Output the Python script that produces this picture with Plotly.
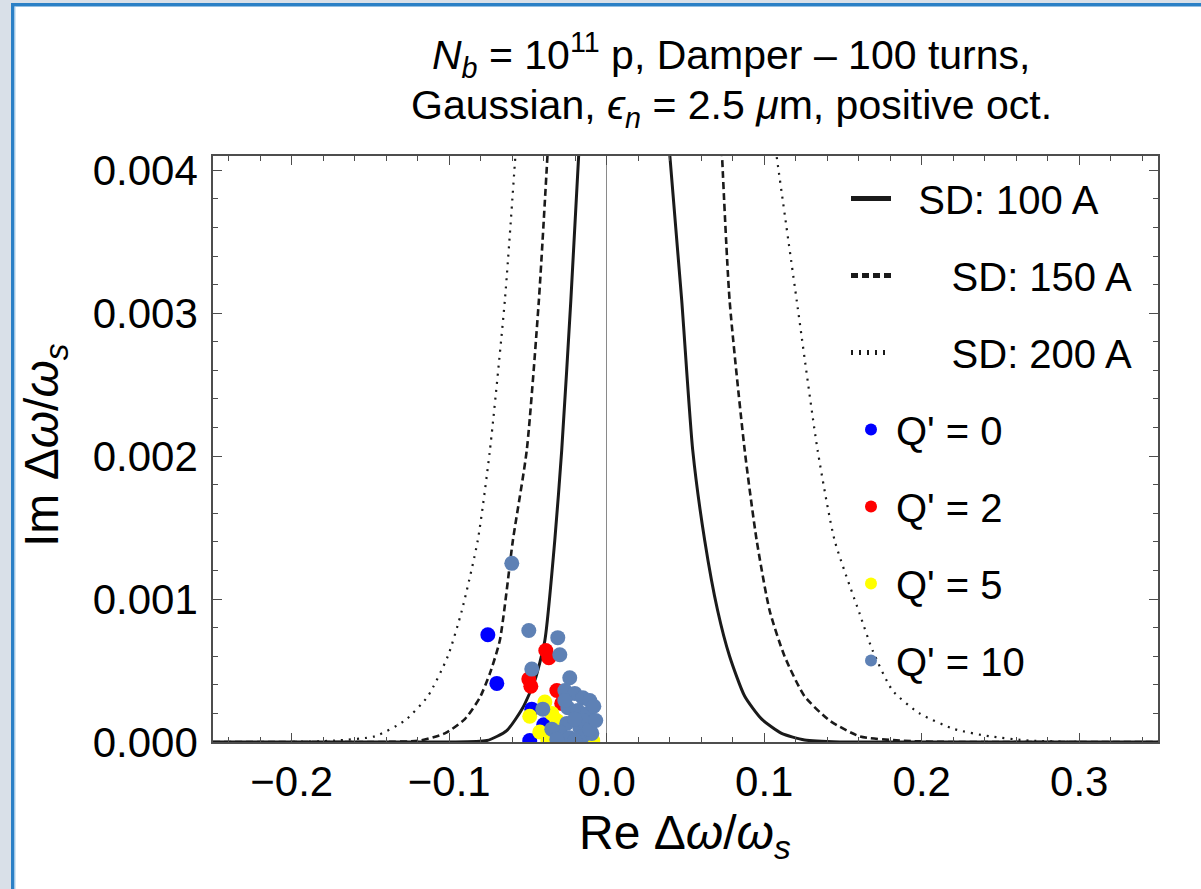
import plotly.graph_objects as go

# ---------------- data ----------------
# Stability diagrams (Re dw/ws, Im dw/ws), left and right branches
sd100_left_re = [-0.25, -0.20, -0.15, -0.12, -0.100, -0.0761, -0.0635, -0.0533, -0.0457, -0.0393, -0.0330, -0.0286, -0.0228, -0.0176]
sd100_left_im = [0.0, 0.0, 0.0, 0.0, 0.0, 0.00001, 0.00008, 0.00024, 0.00043, 0.00071, 0.00141, 0.00204, 0.00309, 0.00415]
sd100_right_re = [0.0397, 0.0476, 0.0546, 0.0622, 0.0704, 0.0780, 0.0876, 0.0984, 0.1110, 0.1256, 0.148, 0.17, 0.20, 0.25, 0.30, 0.35]
sd100_right_im = [0.00415, 0.00309, 0.00204, 0.00141, 0.00092, 0.00060, 0.00032, 0.00016, 0.00006, 0.000014, 0.0, 0.0, 0.0, 0.0, 0.0, 0.0]

sd150_left_re = [-0.25, -0.21, -0.17, -0.144, -0.1187, -0.1028, -0.0901, -0.0806, -0.0742, -0.0679, -0.0596, -0.0508, -0.0431, -0.0374]
sd150_left_im = [0.0, 0.0, 0.0, 0.0, 0.00001, 0.00006, 0.00016, 0.00031, 0.00048, 0.00071, 0.00141, 0.00204, 0.00309, 0.00415]
sd150_right_re = [0.0730, 0.0780, 0.0876, 0.0952, 0.1034, 0.1129, 0.1256, 0.1415, 0.1605, 0.186, 0.218, 0.25, 0.30, 0.35]
sd150_right_im = [0.00415, 0.00309, 0.00204, 0.00141, 0.00092, 0.00060, 0.00032, 0.00015, 0.00004, 0.00001, 0.0, 0.0, 0.0, 0.0]

sd200_left_re = [-0.25, -0.225, -0.201, -0.1726, -0.1472, -0.1282, -0.1136, -0.1009, -0.0920, -0.0819, -0.0742, -0.0647, -0.0577]
sd200_left_im = [0.0, 0.0, 0.0, 0.00001, 0.00004, 0.00015, 0.00032, 0.00060, 0.00092, 0.00141, 0.00204, 0.00309, 0.00415]
sd200_right_re = [0.1072, 0.1206, 0.1339, 0.1447, 0.1605, 0.1688, 0.1815, 0.1986, 0.2208, 0.2430, 0.2684, 0.300, 0.325, 0.35]
sd200_right_im = [0.00415, 0.00309, 0.00204, 0.00141, 0.00090, 0.00064, 0.00036, 0.00020, 0.00009, 0.00004, 0.00001, 0.0, 0.0, 0.0]

# Eigen-tune shifts for each chromaticity
q0_re = [-0.0755, -0.0698, -0.0476, -0.0489, -0.0400]
q0_im = [0.00075, 0.00041, 0.00023, 0.00001, 0.00012]

q2_re = [-0.0387, -0.0368, -0.0495, -0.0482, -0.0317, -0.0286]
q2_im = [0.00064, 0.00059, 0.00044, 0.00039, 0.00036, 0.00027]

q5_re = [-0.0489, -0.0393, -0.0349, -0.0425, -0.0317, -0.0286, -0.0089, -0.0374]
q5_im = [0.00018, 0.00028, 0.00020, 0.00007, 0.00015, 0.00004, 0.00001, 0.00001]

q10_re = [-0.0603, -0.0495, -0.0311, -0.0298, -0.0476, -0.0235, -0.0406, -0.0266, -0.0203,
          -0.0152, -0.0108, -0.0247, -0.0184, -0.0121, -0.0102, -0.0171, -0.0254, -0.0298,
          -0.0235, -0.0152, -0.0095, -0.0349, -0.0317, -0.0082,
          -0.0152, -0.0203, -0.0108, -0.0203, -0.0266, -0.0070]
q10_im = [0.00125, 0.00078, 0.00073, 0.00061, 0.00051, 0.00045, 0.00023, 0.00036, 0.00034,
          0.00031, 0.00029, 0.00024, 0.00022, 0.00020, 0.00013, 0.00010, 0.00013, 0.00007,
          0.00003, 0.00004, 0.00006, 0.00009, 0.00002, 0.00025,
          0.00015, 0.00016, 0.00009, 0.00001, 0.00029, 0.00015]

sd_names = ["SD: 100 A", "SD: 150 A", "SD: 200 A"]
q_names = ["Q' = 0", "Q' = 2", "Q' = 5", "Q' = 10"]
x_tickvals = [-0.2, -0.1, 0.0, 0.1, 0.2, 0.3]
y_tickvals = [0.0, 0.001, 0.002, 0.003, 0.004]

# ---------------- styling ----------------
FONT = "Liberation Sans, Arial, sans-serif"
L, R, T, B = 213, 1158, 156, 742
W, H = 1201, 889
NB = "\u00a0"


def px(xp):
    return (xp - L) / (R - L)


def py(yp):
    return (B - yp) / (B - T)


fig = go.Figure()

sd_sets = [
    (sd100_left_re, sd100_left_im, sd100_right_re, sd100_right_im, "solid", 3, NB * 2),
    (sd150_left_re, sd150_left_im, sd150_right_re, sd150_right_im, "7px,4px", 2.6, NB * 5),
    (sd200_left_re, sd200_left_im, sd200_right_re, sd200_right_im, "2px,6px", 2.2, NB * 5),
]
for i, (lx, ly, rx, ry, dash, w, pad) in enumerate(sd_sets):
    fig.add_trace(go.Scatter(
        x=lx + [None] + rx, y=ly + [None] + ry, mode="lines",
        line=dict(color="#1a1a1a", width=w, dash=dash, shape="spline", smoothing=0.6),
        name=pad + sd_names[i], legendgroup=f"g{i}", connectgaps=False,
    ))

q_sets = [(q0_re, q0_im, "#0000ff"), (q2_re, q2_im, "#ff0000"),
          (q5_re, q5_im, "#ffff00"), (q10_re, q10_im, "#5e81b5")]
for j, (qx, qy, col) in enumerate(q_sets):
    fig.add_trace(go.Scatter(
        x=qx, y=qy, mode="markers",
        marker=dict(color=col, size=15, line=dict(width=0)),
        name=q_names[j], legendgroup=f"q{j}",
    ))

axis_common = dict(
    showgrid=False, showline=True, linecolor="#4d4d4d", linewidth=1.6,
    mirror="allticks", ticks="inside", ticklen=9, tickwidth=1.2, tickcolor="#4d4d4d",
    tickfont=dict(family=FONT, size=42, color="black"),
)
fig.update_xaxes(
    range=[-0.25, 0.35], tickvals=x_tickvals, tickformat=".1f",
    zeroline=True, zerolinecolor="#8a8a8a", zerolinewidth=1,
    minor=dict(dtick=0.02, tick0=0, ticks="inside", ticklen=5, tickcolor="#4d4d4d", showgrid=False),
    ticklabelstandoff=2, **axis_common)
fig.update_yaxes(
    range=[0, 0.0041], tickvals=y_tickvals, tickformat=".3f", zeroline=False,
    minor=dict(dtick=0.0002, tick0=0, ticks="inside", ticklen=5, tickcolor="#4d4d4d", showgrid=False),
    ticklabelstandoff=5, **axis_common)

TF = dict(family=FONT, size=41, color="black")
AF = dict(family=FONT, size=48, color="black")
annotations = [
    dict(text="<i>N</i><sub><i>b</i></sub> = 10<sup>11</sup> p, Damper – 100 turns,",
         x=px(731), y=py(55), xref="paper", yref="paper", showarrow=False,
         xanchor="center", yanchor="middle", font=TF),
    dict(text="Gaussian, <i>ϵ</i><sub><i>n</i></sub> = 2.5 <i>μ</i>m, positive oct.",
         x=px(731), y=py(108), xref="paper", yref="paper", showarrow=False,
         xanchor="center", yanchor="middle", font=TF),
    dict(text="Re Δ<i>ω</i>/<i>ω</i><sub><i>s</i></sub>",
         x=px(685), y=py(836), xref="paper", yref="paper", showarrow=False,
         xanchor="center", yanchor="middle", font=AF),
    dict(text="Im Δ<i>ω</i>/<i>ω</i><sub><i>s</i></sub>", textangle=-90,
         x=px(45), y=py(445), xref="paper", yref="paper", showarrow=False,
         xanchor="center", yanchor="middle", font=AF),
]

shapes = [
    dict(type="rect", xref="paper", yref="paper", x0=px(0), x1=px(11), y0=py(H + 5), y1=py(0),
         fillcolor="#d9e0e8", line=dict(width=0), layer="above"),
    dict(type="rect", xref="paper", yref="paper", x0=px(0), x1=px(W + 5), y0=py(3), y1=py(0),
         fillcolor="#d9e0e8", line=dict(width=0), layer="above"),
    dict(type="rect", xref="paper", yref="paper", x0=px(11), x1=px(14.5), y0=py(H + 5), y1=py(3),
         fillcolor="#2b80c6", line=dict(width=0), layer="above"),
    dict(type="rect", xref="paper", yref="paper", x0=px(11), x1=px(W + 5), y0=py(6.5), y1=py(3),
         fillcolor="#2b80c6", line=dict(width=0), layer="above"),
    dict(type="rect", xref="paper", yref="paper", x0=px(14.5), x1=px(15.5), y0=py(H + 5), y1=py(6.5),
         fillcolor="#a9cdea", line=dict(width=0), layer="above"),
]

fig.update_layout(
    width=W, height=H, autosize=False,
    margin=dict(l=L, r=W - R, t=T, b=H - B, pad=0),
    paper_bgcolor="white", plot_bgcolor="white",
    showlegend=True,
    legend=dict(x=px(846), y=py(166), xanchor="left", yanchor="top",
                font=dict(family=FONT, size=40, color="black"),
                bgcolor="rgba(0,0,0,0)", borderwidth=0,
                tracegroupgap=22, itemsizing="constant", itemwidth=40),
    annotations=annotations, shapes=shapes,
)

fig.write_html("out.html")
